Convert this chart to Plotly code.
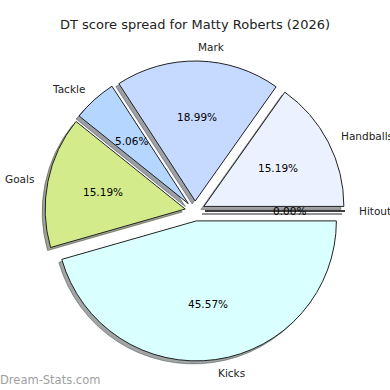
import math
import plotly.graph_objects as go

title = "DT score spread for Matty Roberts (2026)"
categories = ["Hitout", "Handballs", "Mark", "Tackle", "Goals", "Kicks"]
values = [0, 12, 15, 4, 12, 36]
colors = ["#f0f0ff", "#ebf1ff", "#c6d9ff", "#b5d6ff", "#d3eb8b", "#d9ffff"]
watermark = "Dream-Stats.com"

W = H = 390
CX, CY, R = 195.0, 211.0, 140.0
PULL = 10.0 / 140.0
SHX, SHY = -3.0, 3.0


def px(x):
    return x / W


def py(y):
    return 1 - y / H


def domain(cx, cy):
    half = R * (1 + PULL)
    return dict(x=[px(cx - half), px(cx + half)], y=[py(cy + half), py(cy - half)])


def shadow(c):
    c = c.lstrip("#")
    r, g, b = (int(c[i:i + 2], 16) for i in (0, 2, 4))
    return f"rgba({int(r*0.3)},{int(g*0.3)},{int(b*0.3)},0.5)"


fig = go.Figure()
common = dict(labels=categories, values=values, sort=False, direction="counterclockwise",
              rotation=90, pull=PULL, textinfo="none", hoverinfo="label+percent",
              showlegend=False)
fig.add_trace(go.Pie(domain=domain(CX + SHX, CY + SHY),
                     marker=dict(colors=[shadow(c) for c in colors],
                                 line=dict(color=[shadow(c) for c in colors], width=1)),
                     **common))
fig.add_trace(go.Pie(domain=domain(CX, CY),
                     marker=dict(colors=colors, line=dict(color="#222222", width=1)),
                     **common))

total = sum(values)
annotations = []
shapes = []
start = 0.0
d = PULL * R
for cat, v, col in zip(categories, values, colors):
    frac = v / total
    ang = start + frac * 360 / 2
    start += frac * 360
    t = math.radians(ang)
    ccx = CX + d * math.cos(t)
    ccy = CY - d * math.sin(t)
    # percentage
    annotations.append(dict(x=px(ccx + 0.6 * R * math.cos(t)), y=py(ccy - 0.6 * R * math.sin(t)),
                            xref="paper", yref="paper", text=f"{frac*100:.2f}%", showarrow=False,
                            font=dict(family="DejaVu Sans", size=10.5, color="#000000"),
                            xanchor="center", yanchor="middle", borderpad=0, borderwidth=0))
    lx = ccx + 1.1 * R * math.cos(t)
    ly = ccy - 1.1 * R * math.sin(t)
    annotations.append(dict(x=px(lx), y=py(ly), xref="paper", yref="paper", text=cat,
                            showarrow=False, font=dict(family="DejaVu Sans", size=10.5, color="#222222"),
                            xanchor="left" if math.cos(t) > 0 else "right", yanchor="middle",
                            borderpad=0, borderwidth=0))
    if v == 0:
        for ox, oy, lc in ((SHX, SHY, "rgba(70,70,70,0.5)"), (0, 0, "#222222")):
            shapes.append(dict(type="line", xref="paper", yref="paper",
                               x0=px(ccx + ox), y0=py(ccy + oy),
                               x1=px(ccx + ox + R * math.cos(t)), y1=py(ccy + oy - R * math.sin(t)),
                               line=dict(color=lc, width=1)))

annotations.append(dict(x=px(195), y=py(25), xref="paper", yref="paper", text=title, showarrow=False,
                        font=dict(family="DejaVu Sans", size=13, color="#222222"),
                        xanchor="center", yanchor="middle"))
annotations.append(dict(x=0, y=py(380), xref="paper", yref="paper", text=watermark, showarrow=False,
                        font=dict(family="DejaVu Sans", size=11.5, color="#a0a0a0"),
                        xanchor="left", yanchor="middle", borderpad=0, borderwidth=0))

fig.update_layout(width=W, height=H, margin=dict(l=0, r=0, t=0, b=0),
                  paper_bgcolor="white", plot_bgcolor="white",
                  annotations=annotations, shapes=shapes)
fig.write_html("out.html")
